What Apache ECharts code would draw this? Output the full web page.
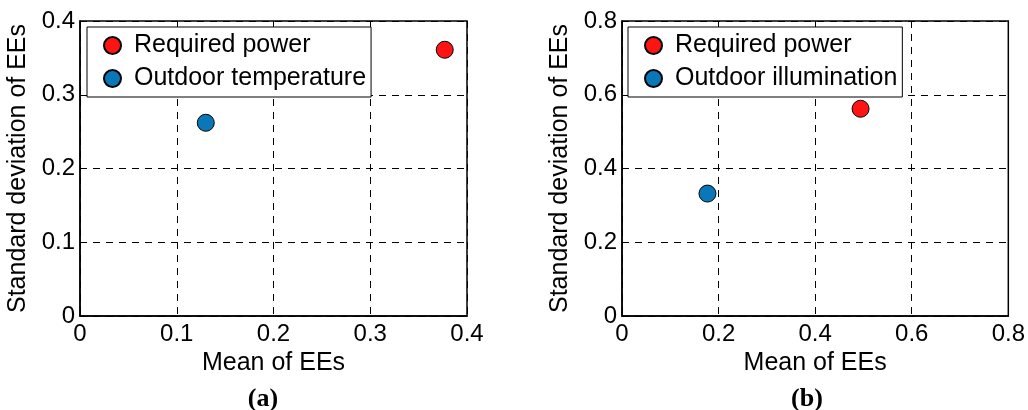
<!DOCTYPE html>
<html><head><meta charset="utf-8">
<script src="https://cdn.jsdelivr.net/npm/echarts@6/dist/echarts.min.js"></script>
<style>html,body{margin:0;padding:0;background:#fff}#c{width:1028px;height:410px}</style>
</head><body><div id="c"></div>
<script>
const seriesNames = ['Required power', 'Outdoor temperature', 'Outdoor illumination'];
const panelA_power = [[0.377, 0.361]];
const panelA_temp = [[0.130, 0.262]];
const panelB_power = [[0.494, 0.562]];
const panelB_illum = [[0.177, 0.332]];
const panelA_ticks = [0, 0.1, 0.2, 0.3, 0.4];
const panelB_ticks = [0, 0.2, 0.4, 0.6, 0.8];
const captions = ['a', 'b'];

const RED = '#ff1414', BLUE = '#0a78b8';
const FONT = 'Liberation Sans, Arial, sans-serif';
const chart = echarts.init(document.getElementById('c'));

function fmt(v){ return v === 0 ? '0' : String(+v.toFixed(2)); }
function xAxis(gi, ticks){
  return {type:'value', gridIndex:gi, min:ticks[0], max:ticks[ticks.length-1], interval:ticks[1]-ticks[0],
    name:'Mean of EEs', nameLocation:'middle', nameGap:30,
    nameTextStyle:{color:'#000', fontSize:25, fontFamily:FONT},
    axisLine:{show:true, lineStyle:{color:'#000', width:1.5}},
    axisTick:{show:false},
    axisLabel:{color:'#000', fontSize:24, fontFamily:FONT, margin:6, formatter:fmt},
    splitLine:{show:true, lineStyle:{color:'#000', type:[7,6], width:1}}};
}
function yAxis(gi, ticks){
  return {type:'value', gridIndex:gi, min:ticks[0], max:ticks[ticks.length-1], interval:ticks[1]-ticks[0],
    name:'Standard deviation of EEs', nameLocation:'middle', nameGap:49,
    nameTextStyle:{color:'#000', fontSize:25, fontFamily:FONT},
    axisLine:{show:true, lineStyle:{color:'#000', width:1.5}},
    axisTick:{show:false},
    axisLabel:{color:'#000', fontSize:24, fontFamily:FONT, margin:5, formatter:fmt},
    splitLine:{show:true, lineStyle:{color:'#000', type:[7,6], width:1}}};
}
function legend(left, names, padR){
  return {orient:'vertical', left:left, top:27, data:names.map(n=>({name:n})),
    icon:'circle', itemWidth:17, itemHeight:17, itemGap:8,
    backgroundColor:'#fff', borderColor:'#000', borderWidth:1, borderRadius:0,
    padding:[6,padR,6,16],
    textStyle:{color:'#000', fontSize:25, lineHeight:25, fontFamily:FONT, padding:[0,0,0,8]}};
}
function scatter(name, data, color, xi){
  return {type:'scatter', name:name, data:data, xAxisIndex:xi, yAxisIndex:xi, symbolSize:17,
    itemStyle:{color:color, borderColor:'#000', borderWidth:1, opacity:1}};
}
chart.setOption({
  animation:false,
  grid:[
    {left:80, top:21, width:387, height:295, show:true, borderColor:'#000', borderWidth:1.5, backgroundColor:'transparent'},
    {left:622, top:21, width:387, height:295, show:true, borderColor:'#000', borderWidth:1.5, backgroundColor:'transparent'}
  ],
  xAxis:[xAxis(0, panelA_ticks), xAxis(1, panelB_ticks)],
  yAxis:[yAxis(0, panelA_ticks), yAxis(1, panelB_ticks)],
  legend:[
    legend(87, [seriesNames[0], seriesNames[1]], 5),
    legend(628, [seriesNames[0], seriesNames[2]], 5)
  ],
  title: captions.map((c, i) => ({
    text:'{p|(}{b|' + c + '}{p|)}', left: i === 0 ? 258 : 802, top:381, textAlign:'center',
    textStyle:{rich:{
      p:{fontFamily:'Liberation Serif, serif', fontSize:26, color:'#000'},
      b:{fontFamily:'Liberation Serif, serif', fontSize:26, fontWeight:'bold', color:'#000'}}}
  })),
  series:[
    scatter(seriesNames[0], panelA_power, RED, 0),
    scatter(seriesNames[1], panelA_temp, BLUE, 0),
    scatter(seriesNames[0], panelB_power, RED, 1),
    scatter(seriesNames[2], panelB_illum, BLUE, 1)
  ]
});
</script></body></html>
